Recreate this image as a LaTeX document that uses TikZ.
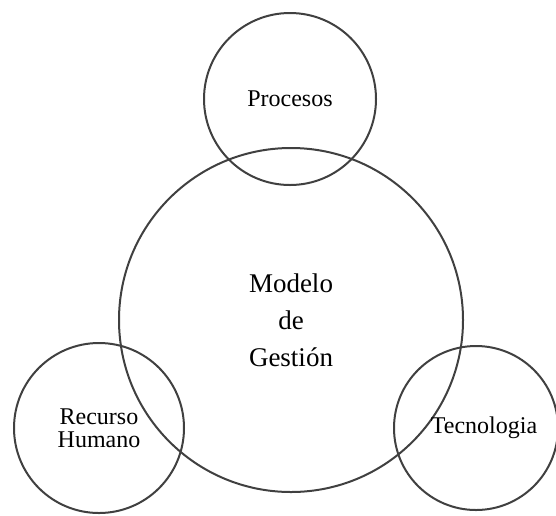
\documentclass[tikz,border=0pt]{standalone}
\usepackage{fontspec}
\setmainfont{Liberation Serif}
\tikzset{
  ring/.style={circle, draw=black!75, line width=1pt, inner sep=0pt, align=center,
    font=\rmfamily\fontsize{12}{11.5}\selectfont},
}
\begin{document}
\begin{tikzpicture}[x=0.5pt,y=-0.5pt]
  \useasboundingbox (0,0) rectangle (556,515);
  \node[ring, minimum size=172pt, font=\rmfamily\fontsize{13.5}{18.5}\selectfont] (modelo) at (291,320) {Modelo\\de\\Gestión};
  \node[ring, minimum size=86pt] (procesos) at (290,99) {Procesos};
  \node[ring, minimum size=85pt] (recurso) at (99,428) {Recurso\\Humano};
  \node[ring, minimum size=82pt] (tecno) at (476,428) {\hspace*{8pt}Tecnologia};
\end{tikzpicture}
\end{document}
